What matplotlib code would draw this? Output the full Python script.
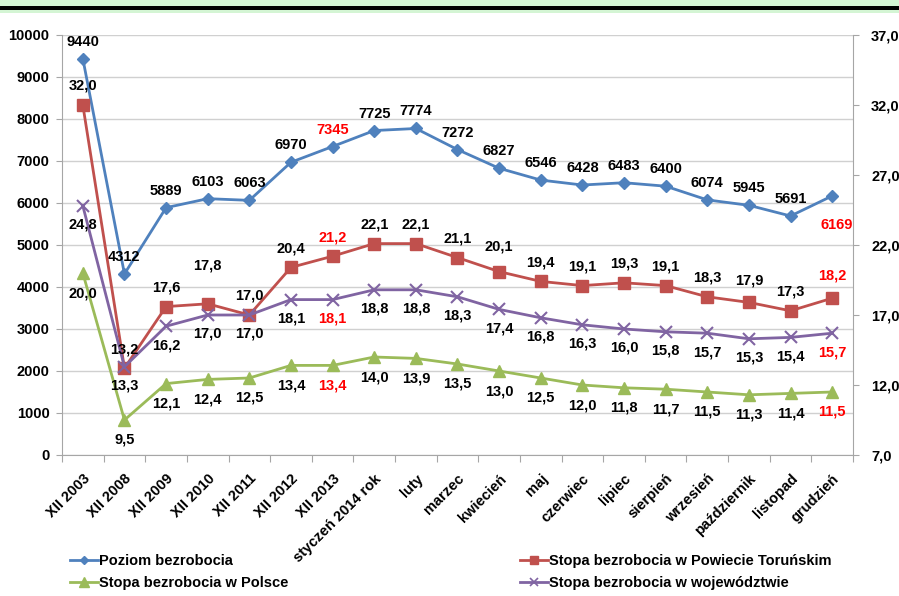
import matplotlib
matplotlib.use("Agg")
import matplotlib.pyplot as plt
from matplotlib.lines import Line2D
from matplotlib.patches import Rectangle

plt.rcParams['font.family'] = ['Liberation Sans', 'DejaVu Sans']
plt.rcParams['font.weight'] = 'bold'

categories = ["XII 2003", "XII 2008", "XII 2009", "XII 2010", "XII 2011", "XII 2012",
              "XII 2013", "styczeń 2014 rok", "luty", "marzec", "kwiecień", "maj",
              "czerwiec", "lipiec", "sierpień", "wrzesień", "październik", "listopad",
              "grudzień"]
poziom = [9440, 4312, 5889, 6103, 6063, 6970, 7345, 7725, 7774, 7272, 6827, 6546,
          6428, 6483, 6400, 6074, 5945, 5691, 6169]
powiat = [32.0, 13.2, 17.6, 17.8, 17.0, 20.4, 21.2, 22.1, 22.1, 21.1, 20.1, 19.4,
          19.1, 19.3, 19.1, 18.3, 17.9, 17.3, 18.2]
polska = [20.0, 9.5, 12.1, 12.4, 12.5, 13.4, 13.4, 14.0, 13.9, 13.5, 13.0, 12.5,
          12.0, 11.8, 11.7, 11.5, 11.3, 11.4, 11.5]
wojew = [24.8, 13.3, 16.2, 17.0, 17.0, 18.1, 18.1, 18.8, 18.8, 18.3, 17.4, 16.8,
         16.3, 16.0, 15.8, 15.7, 15.3, 15.4, 15.7]
left_ticks = [0, 1000, 2000, 3000, 4000, 5000, 6000, 7000, 8000, 9000, 10000]
right_ticks = [7.0, 12.0, 17.0, 22.0, 27.0, 32.0, 37.0]
highlight = [6, 18]

C_BLUE = '#4F81BD'
C_RED = '#C0504D'
C_GREEN = '#9BBB59'
C_PURPLE = '#8064A2'
FS = 10.5

fig = plt.figure(figsize=(8.99, 5.96), dpi=100)
W, H = 899, 596
# top decoration band
fig.patches.append(Rectangle((0, 1 - 13 / H), 1, 13 / H, transform=fig.transFigure,
                             facecolor='#D4F5D4', edgecolor='none', zorder=0))
fig.patches.append(Rectangle((0, 1 - 9.5 / H), 1, 3.2 / H, transform=fig.transFigure,
                             facecolor='black', edgecolor='none', zorder=1))

x0, x1, y0, y1 = 62, 853, 35, 455
ax = fig.add_axes([x0 / W, 1 - y1 / H, (x1 - x0) / W, (y1 - y0) / H])
ax2 = ax.twinx()

n = len(categories)
xs = [i + 0.5 for i in range(n)]

ax.set_xlim(0, n)
ax.set_ylim(0, 10000)
ax2.set_ylim(7, 37)

for a in (ax, ax2):
    a.spines['top'].set_visible(False)
for s in ('left', 'right', 'bottom'):
    ax.spines[s].set_color('#A6A6A6')
    ax2.spines[s].set_color('#A6A6A6')
ax.spines['right'].set_visible(False)
ax2.spines['left'].set_visible(False)
ax2.spines['bottom'].set_visible(False)

ax.set_yticks(left_ticks)
ax.set_yticklabels([str(v) for v in left_ticks], fontsize=FS, fontweight='bold')
ax.yaxis.grid(True, color='#D0D0D0', linewidth=1.0)
ax.set_axisbelow(True)
ax.tick_params(axis='y', length=4, color='#A6A6A6', pad=5)

ax2.set_yticks(right_ticks)
ax2.set_yticklabels([f"{v:.1f}".replace('.', ',') for v in right_ticks], fontsize=FS,
                    fontweight='bold')
ax2.tick_params(axis='y', length=4, color='#A6A6A6', pad=9)

ax.set_xticks(range(n + 1))
ax.set_xticklabels([])
ax.set_xticks(xs, minor=True)
ax.set_xticklabels(categories, minor=True, rotation=45, ha='right',
                   rotation_mode='anchor', fontsize=FS, fontweight='bold')
ax.tick_params(axis='x', which='major', length=5, color='#A6A6A6')
ax.tick_params(axis='x', which='minor', length=0, pad=12)

ax.plot(xs, poziom, color=C_BLUE, lw=2, marker='D', ms=6, zorder=3)
ax2.plot(xs, powiat, color=C_RED, lw=2, marker='s', ms=8, zorder=3)
ax2.plot(xs, polska, color=C_GREEN, lw=2, marker='^', ms=9, zorder=3)
ax2.plot(xs, wojew, color=C_PURPLE, lw=2, marker='x', ms=8, mew=1.5, zorder=3)


def fmt(v):
    return f"{v:.1f}".replace('.', ',')


def lab(a, i, y, text, dy, dx=0):
    col = '#FF0000' if i in highlight else 'black'
    a.annotate(text, (xs[i], y), xytext=(dx, dy), textcoords='offset pixels',
               ha='center', va='center', fontsize=FS, fontweight='bold', color=col,
               zorder=5)


blue_off = {18: (-29, 5)}
for i, v in enumerate(poziom):
    dy, dx = blue_off.get(i, (17, 0))
    lab(ax, i, v, str(v), dy, dx)

red_off = {3: 38, 10: 25, 18: 23, 16: 22}
for i, v in enumerate(powiat):
    lab(ax2, i, v, fmt(v), red_off.get(i, 19))

for i, v in enumerate(wojew):
    lab(ax2, i, v, fmt(v), -19)

for i, v in enumerate(polska):
    lab(ax2, i, v, fmt(v), -20)

h_blue = Line2D([], [], color=C_BLUE, lw=2, marker='D', ms=4)
h_red = Line2D([], [], color=C_RED, lw=2, marker='s', ms=6)
h_green = Line2D([], [], color=C_GREEN, lw=2, marker='^', ms=7)
h_purple = Line2D([], [], color=C_PURPLE, lw=2, marker='x', ms=6, mew=1.2)

leg_kw = dict(frameon=False, handlelength=1.9, handletextpad=0.1,
              labelspacing=0.55, borderpad=0, borderaxespad=0, loc='upper left',
              prop={'weight': 'bold', 'size': FS})
fig.legend([h_blue, h_green], ['Poziom bezrobocia', 'Stopa bezrobocia w Polsce'],
           bbox_to_anchor=(70 / W, 1 - 554 / H), **leg_kw)
fig.legend([h_red, h_purple],
           ['Stopa bezrobocia w Powiecie Toruńskim', 'Stopa bezrobocia w województwie'],
           bbox_to_anchor=(520 / W, 1 - 554 / H), **leg_kw)

fig.savefig('out.png', dpi=100)
